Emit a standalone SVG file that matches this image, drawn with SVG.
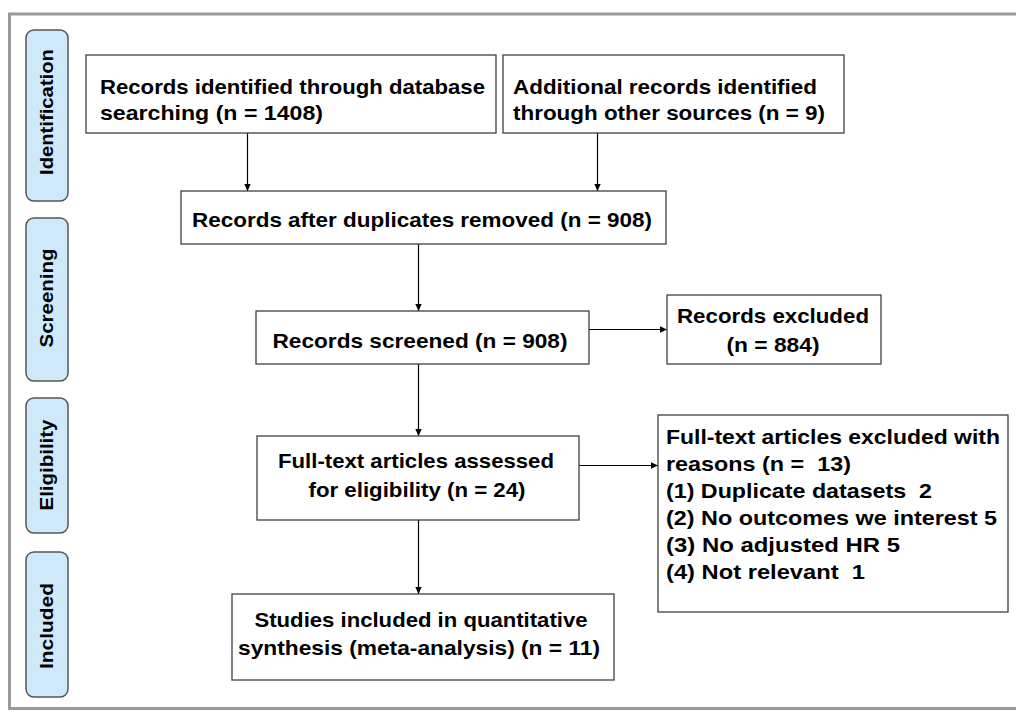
<svg xmlns="http://www.w3.org/2000/svg" width="1016" height="713" viewBox="0 0 1016 713">
<style>
.frame{fill:none;stroke:#999;stroke-width:3}
.box{fill:#fff;stroke:#404040;stroke-width:1.3}
.stage{fill:#cde9fa;stroke:#555;stroke-width:1.5}
.t{font-family:"Liberation Sans",Arial,sans-serif;font-weight:bold;font-size:20.5px;fill:#000}
.s{font-family:"Liberation Sans",Arial,sans-serif;font-weight:bold;font-size:18.5px;fill:#000;text-anchor:middle}
.m{text-anchor:middle}
.c{fill:none;stroke:#000;stroke-width:1.2}
</style>
<defs>
<marker id="ah" markerWidth="8" markerHeight="8" refX="7" refY="4" orient="auto" markerUnits="userSpaceOnUse">
<path d="M0,0.8 L7,4 L0,7.2 Z" fill="#000"/>
</marker>
</defs>
<rect width="1016" height="713" fill="#fff"/>
<path class="frame" d="M1020,14 H9.5 V708.5 H1020"/>

<g id="stage-identification"><rect class="stage" x="26" y="30" width="42" height="171" rx="8"/><text class="s" transform="translate(53,112) rotate(-90)" textLength="126" lengthAdjust="spacingAndGlyphs">Identification</text></g>
<g id="stage-screening"><rect class="stage" x="26" y="218" width="42" height="163" rx="8"/><text class="s" transform="translate(53,298) rotate(-90)" textLength="99" lengthAdjust="spacingAndGlyphs">Screening</text></g>
<g id="stage-eligibility"><rect class="stage" x="26" y="398" width="42" height="135" rx="8"/><text class="s" transform="translate(53,465) rotate(-90)" textLength="91" lengthAdjust="spacingAndGlyphs">Eligibility</text></g>
<g id="stage-included"><rect class="stage" x="26" y="552" width="42" height="145" rx="8"/><text class="s" transform="translate(53,626) rotate(-90)" textLength="86" lengthAdjust="spacingAndGlyphs">Included</text></g>

<g id="connectors">
<line class="c" x1="247.5" y1="133" x2="247.5" y2="191" marker-end="url(#ah)"/>
<line class="c" x1="597.5" y1="133" x2="597.5" y2="191" marker-end="url(#ah)"/>
<line class="c" x1="418.5" y1="244" x2="418.5" y2="311" marker-end="url(#ah)"/>
<line class="c" x1="589" y1="329.5" x2="667" y2="329.5" marker-end="url(#ah)"/>
<line class="c" x1="418.5" y1="364" x2="418.5" y2="436" marker-end="url(#ah)"/>
<line class="c" x1="579" y1="465.5" x2="658" y2="465.5" marker-end="url(#ah)"/>
<line class="c" x1="418.5" y1="520" x2="418.5" y2="594" marker-end="url(#ah)"/>
</g>

<g id="box-database">
<rect class="box" x="86" y="55" width="410" height="78"/>
<text class="t" x="100" y="94" textLength="385" lengthAdjust="spacingAndGlyphs">Records identified through database</text>
<text class="t" x="100" y="120" textLength="223" lengthAdjust="spacingAndGlyphs">searching (n = 1408)</text>
</g>
<g id="box-other">
<rect class="box" x="503" y="55" width="341" height="78"/>
<text class="t" x="513" y="94" textLength="304" lengthAdjust="spacingAndGlyphs">Additional records identified</text>
<text class="t" x="513" y="120" textLength="312" lengthAdjust="spacingAndGlyphs">through other sources (n = 9)</text>
</g>
<g id="box-dedup">
<rect class="box" x="181" y="191" width="485" height="53"/>
<text class="t m" x="422" y="227" textLength="460" lengthAdjust="spacingAndGlyphs">Records after duplicates removed (n = 908)</text>
</g>
<g id="box-screened">
<rect class="box" x="256" y="311" width="333" height="53"/>
<text class="t m" x="420" y="348" textLength="295" lengthAdjust="spacingAndGlyphs">Records screened (n = 908)</text>
</g>
<g id="box-excluded">
<rect class="box" x="667" y="295" width="214" height="69"/>
<text class="t m" x="773" y="323" textLength="192" lengthAdjust="spacingAndGlyphs">Records excluded</text>
<text class="t m" x="773" y="352" textLength="93" lengthAdjust="spacingAndGlyphs">(n = 884)</text>
</g>
<g id="box-fulltext">
<rect class="box" x="257" y="436" width="322" height="84"/>
<text class="t m" x="416" y="468" textLength="276" lengthAdjust="spacingAndGlyphs">Full-text articles assessed</text>
<text class="t m" x="417" y="497" textLength="217" lengthAdjust="spacingAndGlyphs">for eligibility (n = 24)</text>
</g>
<g id="box-ft-excluded">
<rect class="box" x="658" y="415" width="350" height="197"/>
<text class="t" x="666" y="444" textLength="334" lengthAdjust="spacingAndGlyphs">Full-text articles excluded with</text>
<text class="t" x="666" y="471" textLength="185" lengthAdjust="spacingAndGlyphs" xml:space="preserve">reasons (n =  13)</text>
<text class="t" x="666" y="498" textLength="266" lengthAdjust="spacingAndGlyphs" xml:space="preserve">(1) Duplicate datasets  2</text>
<text class="t" x="666" y="525" textLength="331" lengthAdjust="spacingAndGlyphs">(2) No outcomes we interest 5</text>
<text class="t" x="666" y="552" textLength="234" lengthAdjust="spacingAndGlyphs">(3) No adjusted HR 5</text>
<text class="t" x="666" y="579" textLength="199" lengthAdjust="spacingAndGlyphs" xml:space="preserve">(4) Not relevant  1</text>
</g>
<g id="box-included">
<rect class="box" x="232" y="594" width="382" height="86"/>
<text class="t m" x="421" y="627" textLength="333" lengthAdjust="spacingAndGlyphs">Studies included in quantitative</text>
<text class="t m" x="419" y="655" textLength="362" lengthAdjust="spacingAndGlyphs">synthesis (meta-analysis) (n = 11)</text>
</g>
</svg>
